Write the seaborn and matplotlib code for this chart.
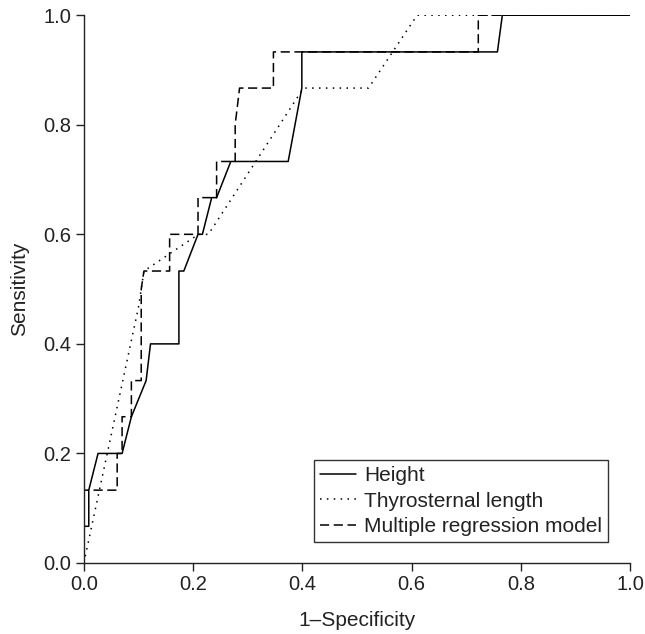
import numpy as np
import pandas as pd
import seaborn as sns
import matplotlib
matplotlib.use("Agg")
import matplotlib.pyplot as plt

# ROC curve points (1-specificity, sensitivity)
height_fpr = [0, 0, 0.009, 0.009, 0.026, 0.07, 0.087, 0.114, 0.122, 0.174, 0.174, 0.183,
              0.209, 0.217, 0.234, 0.243, 0.269, 0.374, 0.399, 0.399, 0.757, 0.766, 1.0]
height_tpr = [0, 0.067, 0.067, 0.133, 0.2, 0.2, 0.267, 0.333, 0.4, 0.4, 0.533, 0.533,
              0.6, 0.6, 0.667, 0.667, 0.733, 0.733, 0.867, 0.933, 0.933, 1.0, 1.0]

thyro_fpr = [0, 0.1, 0.11, 0.21, 0.228, 0.402, 0.521, 0.61, 1.0]
thyro_tpr = [0, 0.467, 0.533, 0.6, 0.6, 0.867, 0.867, 1.0, 1.0]

model_fpr = [0, 0, 0.061, 0.061, 0.07, 0.07, 0.087, 0.087, 0.105, 0.105, 0.11, 0.157,
             0.157, 0.209, 0.209, 0.243, 0.243, 0.277, 0.277, 0.285, 0.347, 0.347,
             0.722, 0.722, 1.0]
model_tpr = [0, 0.133, 0.133, 0.2, 0.2, 0.267, 0.267, 0.333, 0.333, 0.5, 0.533, 0.533,
             0.6, 0.6, 0.667, 0.667, 0.733, 0.733, 0.8, 0.867, 0.867, 0.933,
             0.933, 1.0, 1.0]

labels = ["Height", "Thyrosternal length", "Multiple regression model"]
dash_styles = [(None, None), (1, 3.5), (6, 3)]

sns.set_style("ticks")
plt.rcParams['font.family'] = ['Liberation Sans', 'DejaVu Sans']

fig = plt.figure(figsize=(6.45, 6.34), dpi=100)
ax = fig.add_axes([0.130, 0.112, 0.847, 0.864])

curves = [(height_fpr, height_tpr), (thyro_fpr, thyro_tpr), (model_fpr, model_tpr)]
for (fx, ty), lab, dsh in zip(curves, labels, dash_styles):
    df = pd.DataFrame({"fpr": fx, "tpr": ty})
    sns.lineplot(data=df, x="fpr", y="tpr", sort=False, estimator=None, ax=ax,
                 color="black", linewidth=1.1, label=lab)
    if dsh[0] is not None:
        ax.lines[-1].set_dashes(dsh)

ax.set_xlim(0, 1)
ax.set_ylim(0, 1)
ax.set_xticks(np.arange(0, 1.01, 0.2))
ax.set_yticks(np.arange(0, 1.01, 0.2))
ax.xaxis.set_major_formatter(matplotlib.ticker.FormatStrFormatter('%.1f'))
ax.yaxis.set_major_formatter(matplotlib.ticker.FormatStrFormatter('%.1f'))
ax.tick_params(labelsize=14.5, length=5.5, width=1, color="#222222", labelcolor="#222222")
ax.set_xlabel("1\u2013Specificity", fontsize=15, color="#222222", labelpad=12)
ax.set_ylabel("Sensitivity", fontsize=15, color="#222222", labelpad=10)
sns.despine(ax=ax)
for s in ["left", "bottom"]:
    ax.spines[s].set_linewidth(1)
    ax.spines[s].set_color("#222222")

leg = ax.legend(loc="lower right", bbox_to_anchor=(0.96, 0.038), fontsize=15,
                frameon=True, fancybox=False, edgecolor="black", handlelength=1.7,
                handletextpad=0.4, borderpad=0.3, labelspacing=0.3, borderaxespad=0)
leg.get_frame().set_linewidth(1)
for t in leg.get_texts():
    t.set_color("#222222")

fig.savefig("out.png", dpi=100)
